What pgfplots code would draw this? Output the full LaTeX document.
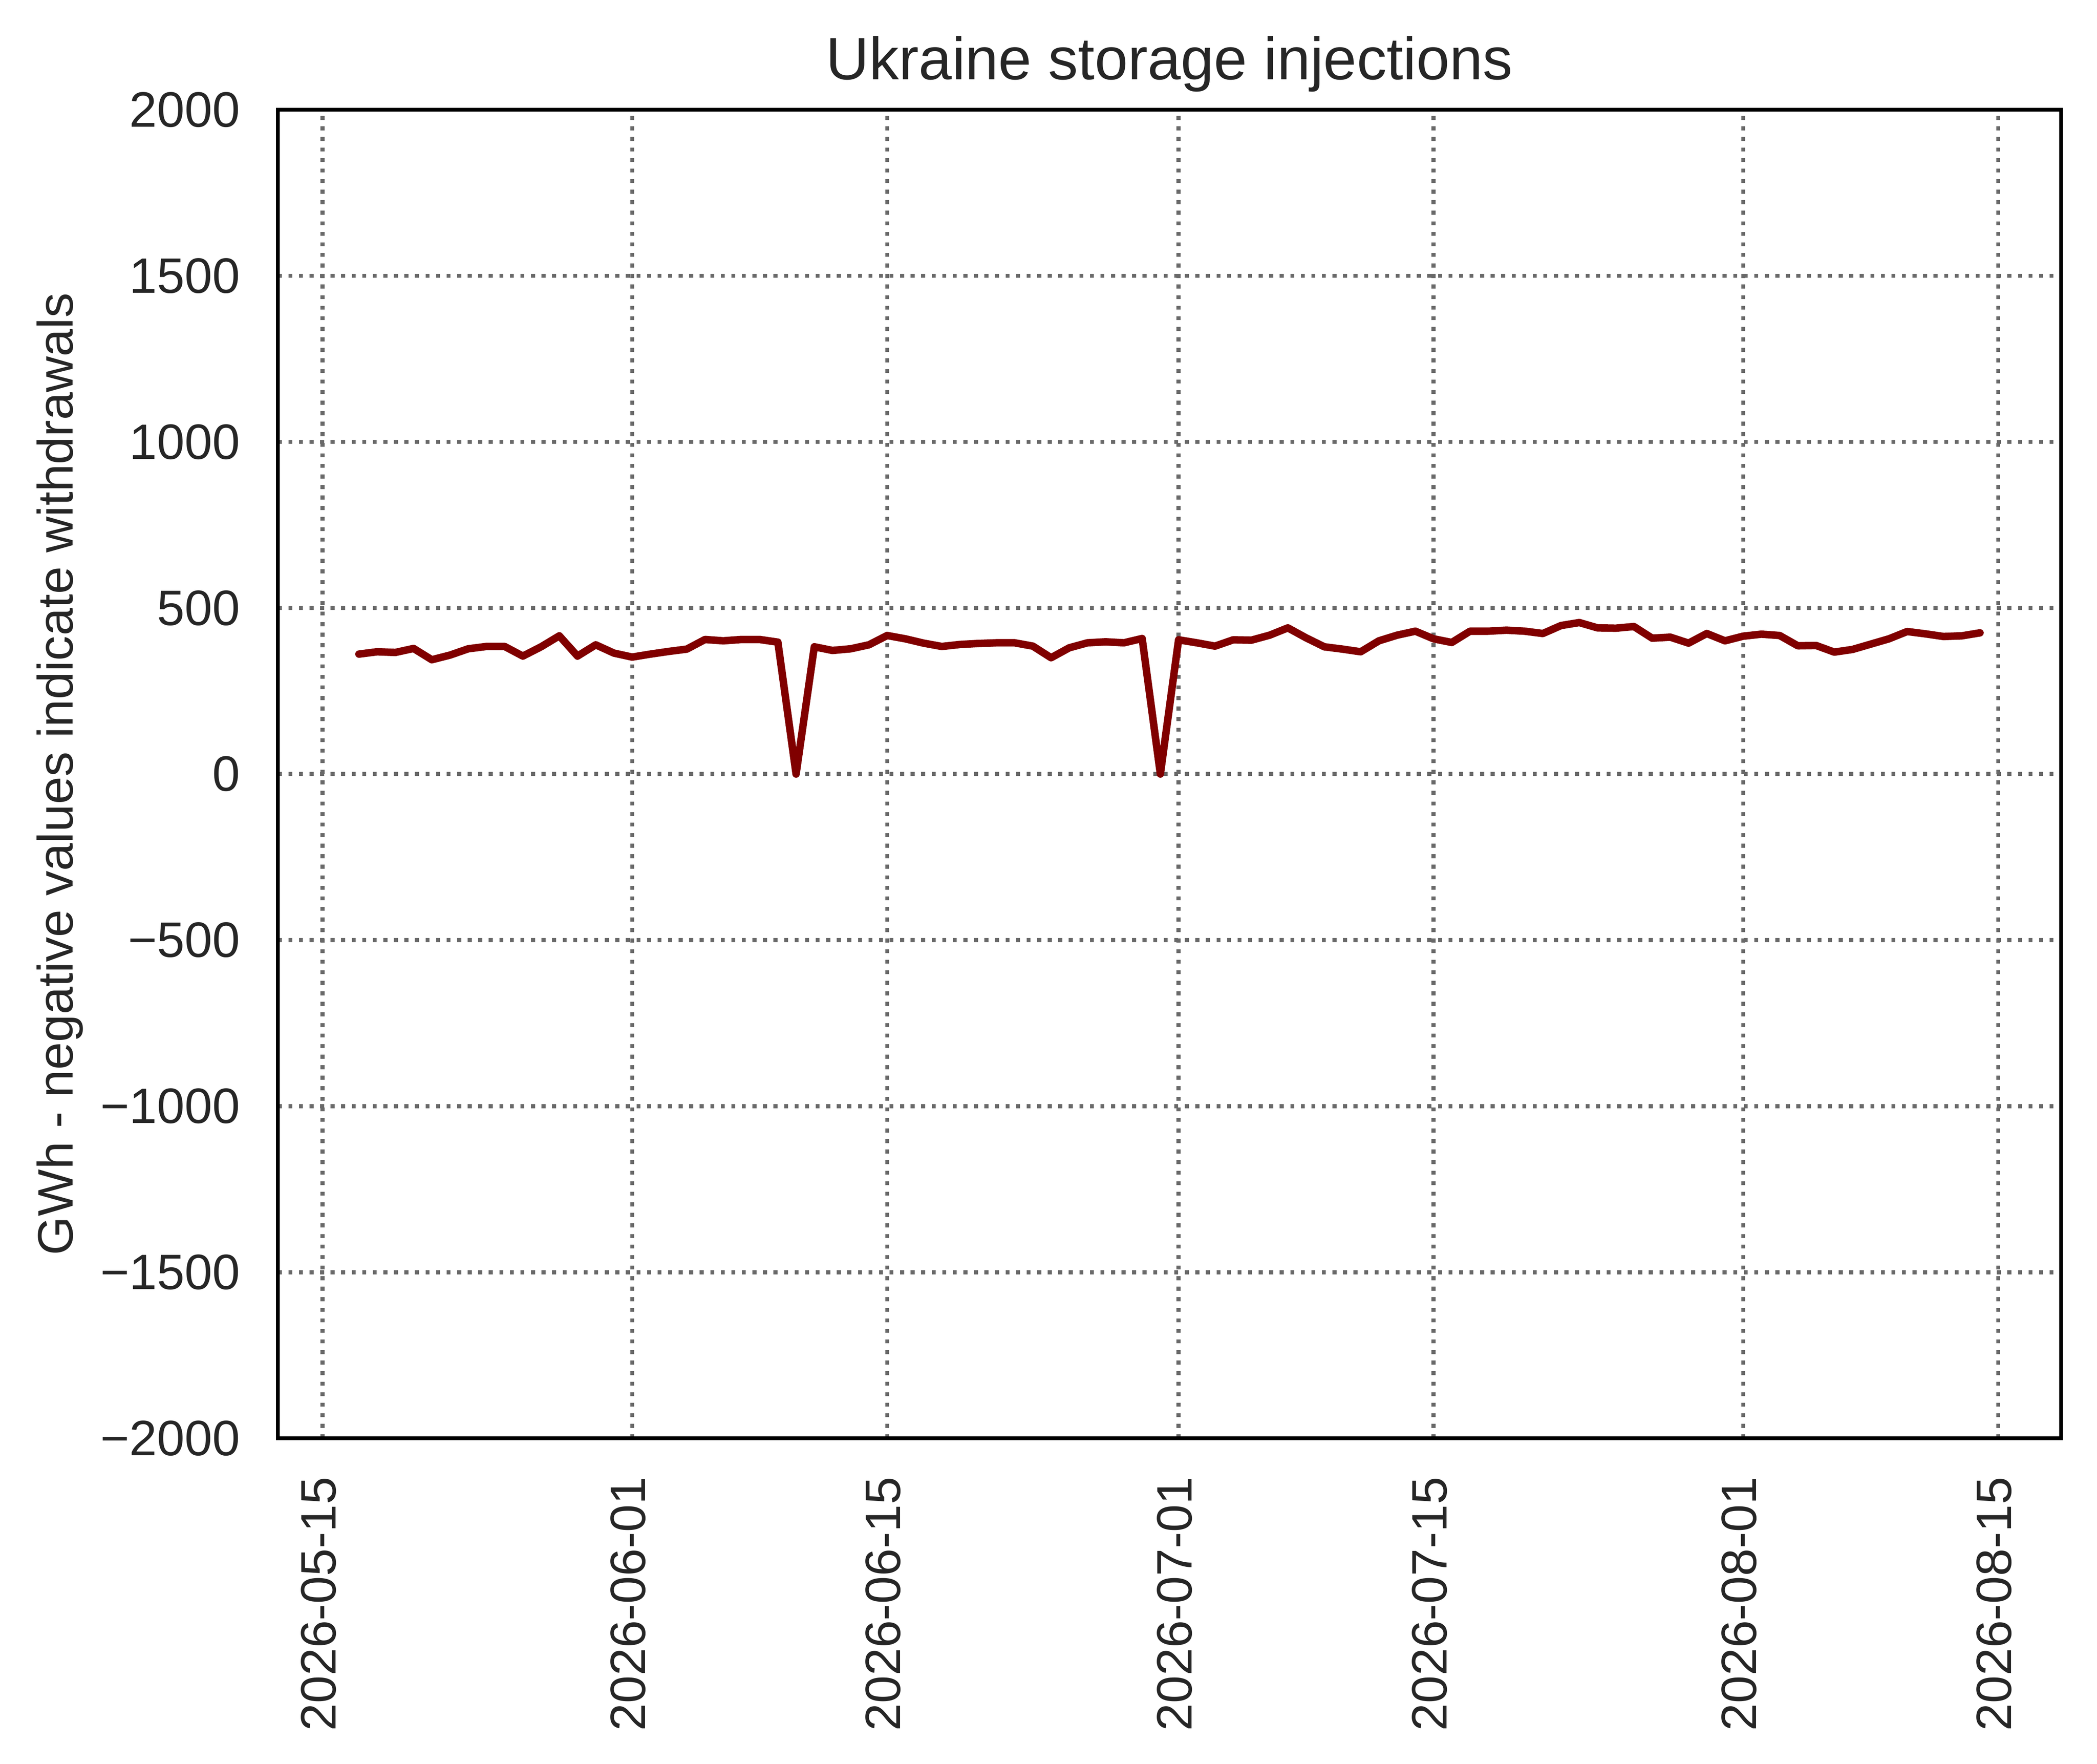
\documentclass[border=0pt]{standalone}
\usepackage{fontspec}
\setmainfont{Liberation Sans}
\usepackage{pgfplots}
\pgfplotsset{compat=1.18}
\definecolor{txt}{HTML}{262626}
\definecolor{gridc}{HTML}{696969}
\definecolor{maroonc}{HTML}{800000}
\begin{document}
\begin{tikzpicture}
\begin{axis}[
  scale only axis,
  width=4.96in, height=3.695in,
  xmin=-2.45, xmax=95.45,
  ymin=-2000, ymax=2000,
  xtick={0,17,31,47,61,78,92},
  xticklabels={2026-05-15,2026-06-01,2026-06-15,2026-07-01,2026-07-15,2026-08-01,2026-08-15},
  ytick={-2000,-1500,-1000,-500,0,500,1000,1500,2000},
  yticklabels={−2000,−1500,−1000,−500,0,500,1000,1500,2000},
  major tick length=0pt,
  tick style={draw=none},
  axis line style={black, line width=0.8pt},
  grid=major,
  major grid style={color=gridc, line width=0.8pt, dash pattern=on 0.8pt off 1.32pt},
  ticklabel style={font=\fontsize{10}{12}\selectfont, text=txt},
  yticklabel style={anchor=east, inner sep=0pt, xshift=-7.4pt},
  xticklabel style={rotate=90, anchor=east, inner xsep=7.5pt, inner ysep=0pt, text height=7.16pt, text depth=1.9pt},
  every axis y label/.style={at={(axis description cs:-0.11512,0.5)}, rotate=90, anchor=base, font=\fontsize{10}{12}\selectfont, text=txt, inner sep=0pt},
  ylabel={GWh - negative values indicate withdrawals},
  every axis title/.style={at={(axis description cs:0.5,1.02273)}, anchor=base, font=\fontsize{12}{14.4}\selectfont, text=txt, inner sep=0pt},
  title={Ukraine storage injections},
]
\addplot[color=maroonc, line width=1.5pt, line join=round, line cap=round, mark=none] coordinates {
(2,361) (3,368) (4,366) (5,378) (6,344) (7,358) (8,377) (9,384) (10,384) (11,355)
(12,383) (13,416) (14,355) (15,389) (16,364) (17,352) (18,361) (19,369) (20,376) (21,405)
(22,401) (23,405) (24,405) (25,397) (26,0) (27,383) (28,372) (29,377) (30,389) (31,417)
(32,407) (33,394) (34,384) (35,390) (36,393) (37,395) (38,395) (39,385) (40,350) (41,380)
(42,395) (43,398) (44,395) (45,408) (46,0) (47,404) (48,395) (49,385) (50,404) (51,403)
(52,418) (53,440) (54,410) (55,383) (56,376) (57,368) (58,401) (59,418) (60,430) (61,407)
(62,396) (63,430) (64,430) (65,433) (66,430) (67,423) (68,447) (69,456) (70,440) (71,439)
(72,444) (73,409) (74,412) (75,394) (76,423) (77,401) (78,415) (79,421) (80,417) (81,386)
(82,387) (83,367) (84,375) (85,391) (86,407) (87,429) (88,422) (89,414) (90,416) (91,425)
};
\end{axis}
\pgfresetboundingbox
\path (-0.773in,-0.905in) rectangle (5.060in,4.0in);
\end{tikzpicture}
\end{document}
